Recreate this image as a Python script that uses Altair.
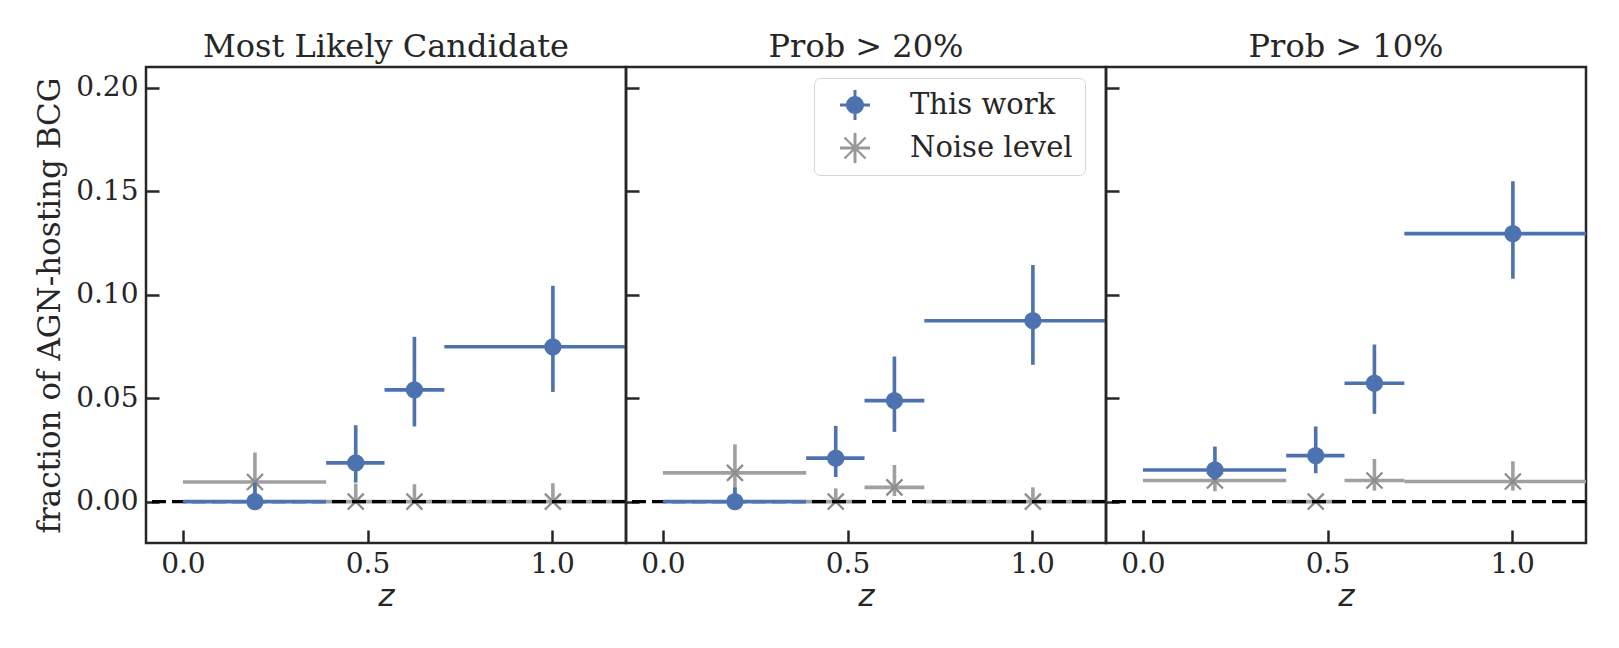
import altair as alt
import pandas as pd

# ---------------- data ----------------
panel_titles = ["Most Likely Candidate", "Prob > 20%", "Prob > 10%"]
series_names = ["This work", "Noise level"]

z_mid = [0.195, 0.468, 0.627, 1.002]
z_lo = [0.0, 0.388, 0.546, 0.708]
z_hi = [0.388, 0.546, 0.708, 1.30]

# Most Likely Candidate
p1_blue = [0.0, 0.0187, 0.054, 0.0748]
p1_blue_lo = [0.0, 0.0092, 0.0363, 0.053]
p1_blue_hi = [0.0092, 0.0369, 0.0796, 0.1043]
p1_gray = [0.0095, 0.0, 0.0, 0.0]
p1_gray_lo = [0.002, 0.0, 0.0, 0.0]
p1_gray_hi = [0.0237, 0.0087, 0.0084, 0.0089]

# Prob > 20%
p2_blue = [0.0, 0.021, 0.0488, 0.0874]
p2_blue_lo = [0.0, 0.0119, 0.0337, 0.0661]
p2_blue_hi = [0.0068, 0.0366, 0.0701, 0.1143]
p2_gray = [0.0139, 0.0, 0.0069, 0.0]
p2_gray_lo = [0.004, 0.0, 0.0027, 0.0]
p2_gray_hi = [0.0277, 0.0064, 0.0177, 0.0069]

# Prob > 10%
p3_blue = [0.0153, 0.0222, 0.0572, 0.1295]
p3_blue_lo = [0.0105, 0.0137, 0.0424, 0.1077]
p3_blue_hi = [0.0266, 0.0363, 0.0759, 0.1548]
p3_gray = [0.0102, 0.0, 0.0102, 0.0097]
p3_gray_lo = [0.0050, 0.0, 0.0053, 0.0053]
p3_gray_hi = [0.0150, 0.0, 0.0206, 0.0195]

x_ticks = [0.0, 0.5, 1.0]
y_ticks = [0.0, 0.05, 0.10, 0.15, 0.20]

# ---------------- styles ----------------
BLUE = "#4C72B0"
GRAY_LINE = "#a0a0a0"
GRAY_MARK = "#8c8c8c"
INK = "#262626"
SERIF = "DejaVu Serif"

X_PATH = "M-1,-1L1,1M-1,1L1,-1"
LEG_BLUE = ("M-1,-0.1H1V0.1H-1Z M-0.1,-1H0.1V1H-0.1Z "
            "M0.6,0A0.6,0.6 0 1 1 -0.6,0A0.6,0.6 0 1 1 0.6,0Z")
LEG_GRAY = ("M-1,-0.1H1V0.1H-1Z M-0.1,-1H0.1V1H-0.1Z "
            "M-0.643,-0.757L0.757,0.643L0.643,0.757L-0.757,-0.643Z "
            "M-0.643,0.757L-0.757,0.643L0.643,-0.757L0.757,-0.643Z")

W, H = 480, 476
LW = 3.6


def frame(y, ylo, yhi, name):
    return pd.DataFrame({"z": z_mid, "lo": z_lo, "hi": z_hi,
                         "y": y, "ylo": ylo, "yhi": yhi, "series": name})


def make_panel(title, blue, gray, first, legend):
    bdf = frame(*blue, series_names[0])
    gdf = frame(*gray, series_names[1])

    xscale = alt.Scale(domain=[-0.1, 1.2], nice=False, zero=False)
    yscale = alt.Scale(domain=[-0.02, 0.21], nice=False, zero=False)
    common = dict(tickSize=13, offset=-13, domain=False, grid=False,
                  labelFont=SERIF, labelFontSize=28, labelColor=INK,
                  tickColor=INK, tickWidth=2.5)
    xaxis = alt.Axis(values=x_ticks, format=".1f", labelFlush=False,
                     labelPadding=7,
                     title="z", titleFont="DejaVu Sans", titleFontStyle="italic",
                     titleFontSize=31, titleFontWeight="normal", titlePadding=3,
                     titleColor=INK, **common)
    if first:
        yaxis = alt.Axis(values=y_ticks, format=".2f", labelFlush=False,
                         labelPadding=8,
                         title="fraction of AGN-hosting BCG", titleFont=SERIF,
                         titleFontSize=31, titleFontWeight="normal",
                         titlePadding=9, titleColor=INK, **common)
    else:
        yaxis = alt.Axis(values=y_ticks, labels=False, title=None, **common)

    def xq(f):
        return alt.X(f, type="quantitative", scale=xscale, axis=xaxis)

    def yq(f):
        return alt.Y(f, type="quantitative", scale=yscale, axis=yaxis)

    g = alt.Chart(gdf)
    b = alt.Chart(bdf)
    layers = [
        g.mark_rule(color=GRAY_LINE, strokeWidth=LW, clip=True).encode(
            x=xq("lo"), x2="hi", y=yq("y")),
        g.mark_rule(color=GRAY_LINE, strokeWidth=LW, clip=True).encode(
            x=xq("z"), y=yq("ylo"), y2="yhi"),
        g.mark_point(shape=X_PATH, filled=False, size=256, strokeWidth=2.3,
                     color=GRAY_MARK, opacity=1).encode(x=xq("z"), y=yq("y")),
        alt.Chart(pd.DataFrame({"v": [0.0]})).mark_rule(
            color="black", strokeWidth=3.4, strokeDash=[14, 6]).encode(y=yq("v")),
        b.mark_rule(color=BLUE, strokeWidth=LW, clip=True).encode(
            x=xq("lo"), x2="hi", y=yq("y")),
        b.mark_rule(color=BLUE, strokeWidth=LW, clip=True).encode(
            x=xq("z"), y=yq("ylo"), y2="yhi"),
        b.mark_circle(size=300, color=BLUE, opacity=1).encode(
            x=xq("z"), y=yq("y")),
    ]
    if legend:
        ldf = pd.concat([bdf, gdf])
        leg = alt.Legend(title=None, orient="none", legendX=668, legendY=11,
                         symbolSize=900, symbolOpacity=1, symbolStrokeWidth=0,
                         labelFont=SERIF, labelFontSize=29, labelColor=INK,
                         labelLimit=0, labelOffset=40, rowPadding=13,
                         padding=12, symbolOffset=14, fillColor="white",
                         strokeColor="#d5d5d5", cornerRadius=6)
        layers.append(
            alt.Chart(ldf).mark_point(filled=True, opacity=0).encode(
                x=xq("z"), y=yq("y"),
                color=alt.Color("series:N", scale=alt.Scale(
                    domain=series_names, range=[BLUE, "#999999"]), legend=leg),
                shape=alt.Shape("series:N", scale=alt.Scale(
                    domain=series_names, range=[LEG_BLUE, LEG_GRAY]), legend=leg),
            ))
    return alt.layer(*layers).properties(
        width=W, height=H,
        title=alt.TitleParams(title, font=SERIF, fontSize=32,
                              fontWeight="normal", color=INK, offset=3,
                              anchor="middle", frame="group"))


panels = [
    make_panel(panel_titles[0],
               (p1_blue, p1_blue_lo, p1_blue_hi),
               (p1_gray, p1_gray_lo, p1_gray_hi), True, False),
    make_panel(panel_titles[1],
               (p2_blue, p2_blue_lo, p2_blue_hi),
               (p2_gray, p2_gray_lo, p2_gray_hi), False, True),
    make_panel(panel_titles[2],
               (p3_blue, p3_blue_lo, p3_blue_hi),
               (p3_gray, p3_gray_lo, p3_gray_hi), False, False),
]

chart = alt.hconcat(*panels, spacing=0, bounds="flush").properties(
    padding={"left": 25, "top": 21, "right": 5, "bottom": 5},
    background="white"
).configure_view(
    stroke=INK, strokeWidth=2.5
)

chart.save("out.html", embed_options={"renderer": "svg", "actions": False})
